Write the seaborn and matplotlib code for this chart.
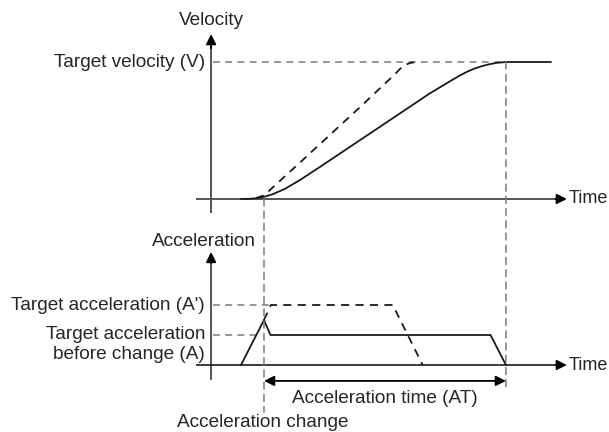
import matplotlib
matplotlib.use("Agg")
import matplotlib.pyplot as plt
from matplotlib.patches import ConnectionPatch
import seaborn as sns
import pandas as pd

# ---------------- data (time units; velocity in % of V; acceleration in units of A)
vel_t = [0, 4, 7.5, 10, 13.5, 19, 25.5, 34.5, 47.5, 60.5, 73.5, 82, 88.5, 91.7, 95, 98.3,
         101.5, 104.8, 108, 111.3, 115.2, 134.8]
vel_v = [0, 0.15, 0.7, 1.6, 3.3, 7.3, 13.7, 23.6, 38.2, 52.8, 67.4, 77.0, 83.5, 86.8, 90.0, 92.9,
         95.2, 97.0, 98.4, 99.4, 100, 100]

vel_new_t = [6.5, 10, 25.7, 51.7, 67, 69.1, 71.3, 73.5, 76.1]
vel_new_v = [0.7, 2.6, 26.7, 67, 91.2, 94.9, 97.8, 99.3, 100]

acc_t = [0, 10, 12.8, 108.5, 115.2]
acc_a = [0, 1.5, 1.0, 1.0, 0]

acc_new_t = [10, 13, 66, 79]
acc_new_a = [1.5, 2.0, 2.0, 0]

target_v = 100
acc_A = 1.0
acc_A2 = 2.0
t_change = 10
t_end = 115.2

labels_top = ["Velocity", "Target velocity (V)", "Time"]
labels_bot = ["Acceleration", "Target acceleration (A')",
              "Target acceleration\nbefore change (A)", "Time",
              "Acceleration time (AT)", "Acceleration change"]

# ---------------- style
sns.set_theme(style="white")
plt.rcParams["font.family"] = ["Liberation Sans", "DejaVu Sans"]
FS = 13.7
TXT = "#262626"
CURVE = "#1a1a1a"
AXC = "#555555"
REF = "#7a7a7a"

fig = plt.figure(figsize=(6.09, 4.32), dpi=100)
ax1 = fig.add_axes([0.3013, 0.4918, 0.6609, 0.4598])
ax2 = fig.add_axes([0.3013, 0.0509, 0.6609, 0.4167])
ax1.set_xlim(-25, 150); ax1.set_ylim(-15, 130)
ax2.set_xlim(-25, 150); ax2.set_ylim(-1.5, 4.5)

axis_arrow_head = dict(arrowstyle="-|>,head_length=0.6,head_width=0.3", mutation_scale=10,
                       shrinkA=0, shrinkB=0, lw=1.3, color="black")

y_axis_t = -13
x_axis_start = -19.6
x_axis_tip = 141.7

# --- axes of top panel
ax1.plot([y_axis_t, y_axis_t], [-10.2, 112], color=AXC, lw=1.4, solid_capstyle="butt")
ax1.annotate("", xy=(y_axis_t, 120.4), xytext=(y_axis_t, 110), arrowprops=axis_arrow_head)
ax1.plot([x_axis_start, x_axis_tip - 3], [0, 0], color=AXC, lw=1.4, solid_capstyle="butt")
ax1.annotate("", xy=(x_axis_tip, 0), xytext=(x_axis_tip - 5, 0), arrowprops=axis_arrow_head)

# --- axes of bottom panel
ax2.plot([y_axis_t, y_axis_t], [-0.5, 3.5], color=AXC, lw=1.4, solid_capstyle="butt")
ax2.annotate("", xy=(y_axis_t, 3.77), xytext=(y_axis_t, 3.4), arrowprops=axis_arrow_head)
ax2.plot([x_axis_start, x_axis_tip - 3], [0, 0], color=CURVE, lw=1.2, solid_capstyle="butt")
ax2.annotate("", xy=(x_axis_tip, 0), xytext=(x_axis_tip - 5, 0), arrowprops=axis_arrow_head)

# --- reference dashed lines
ref_kw = dict(color=REF, lw=1.1, dashes=(4.5, 3.5))
ax1.plot([-12.2, t_end], [target_v, target_v], **ref_kw)
ax2.plot([-12.2, 13], [acc_A2, acc_A2], **ref_kw)
ax2.plot([-12.2, 7], [acc_A, acc_A], **ref_kw)

for t0, y_top, y_bot in [(t_change, 0, -1.57), (t_end, target_v, -0.73)]:
    con = ConnectionPatch(xyA=(t0, y_top), coordsA=ax1.transData,
                          xyB=(t0, y_bot), coordsB=ax2.transData,
                          color=REF, lw=1.1, linestyle=(0, (4.5, 3.5)))
    fig.add_artist(con)

# --- curves (seaborn)
df_v = pd.DataFrame({"t": vel_t, "v": vel_v})
df_vn = pd.DataFrame({"t": vel_new_t, "v": vel_new_v})
df_a = pd.DataFrame({"t": acc_t, "a": acc_a})
df_an = pd.DataFrame({"t": acc_new_t, "a": acc_new_a})

sns.lineplot(data=df_v, x="t", y="v", ax=ax1, color=CURVE, lw=1.3, sort=False)
sns.lineplot(data=df_vn, x="t", y="v", ax=ax1, color=CURVE, lw=1.3, sort=False).lines[-1].set_dashes((4.5, 3.5))
sns.lineplot(data=df_a, x="t", y="a", ax=ax2, color=CURVE, lw=1.3, sort=False)
sns.lineplot(data=df_an, x="t", y="a", ax=ax2, color=CURVE, lw=1.3, sort=False).lines[-1].set_dashes((4.5, 3.5))

for ax in (ax1, ax2):
    ax.set_axis_off()
    leg = ax.get_legend()
    if leg:
        leg.remove()

# --- AT double arrow
ax2.annotate("", xy=(t_change, -0.53), xytext=(t_end, -0.53),
             arrowprops=dict(arrowstyle="<|-|>,head_length=0.6,head_width=0.3",
                             mutation_scale=10, color="black", lw=1.3,
                             shrinkA=0, shrinkB=0))

# --- texts
tk = dict(fontsize=FS, color=TXT)
tt = dict(fontsize=13.0, color=TXT)
ax1.text(y_axis_t, 130.5, labels_top[0], ha="center", va="center", **tk)
ax1.text(-15.6, target_v, labels_top[1], ha="right", va="center", **tk)
ax1.text(142.6, 0, labels_top[2], ha="left", va="center", **tt)

ax2.text(-16, 4.13, labels_bot[0], ha="center", va="center", **tk)
ax2.text(-15.6, acc_A2, labels_bot[1], ha="right", va="center", **tk)
ax2.text(-15.6, 0.68, labels_bot[2], ha="right", va="center", linespacing=1.2, **tk)
ax2.text(142.6, 0, labels_bot[3], ha="left", va="center", **tt)
ax2.text(62.6, -1.1, labels_bot[4], ha="center", va="center", **tk)
ax2.text(9.6, -1.93, labels_bot[5], ha="center", va="center", **tk)

fig.savefig("out.png", dpi=100)
